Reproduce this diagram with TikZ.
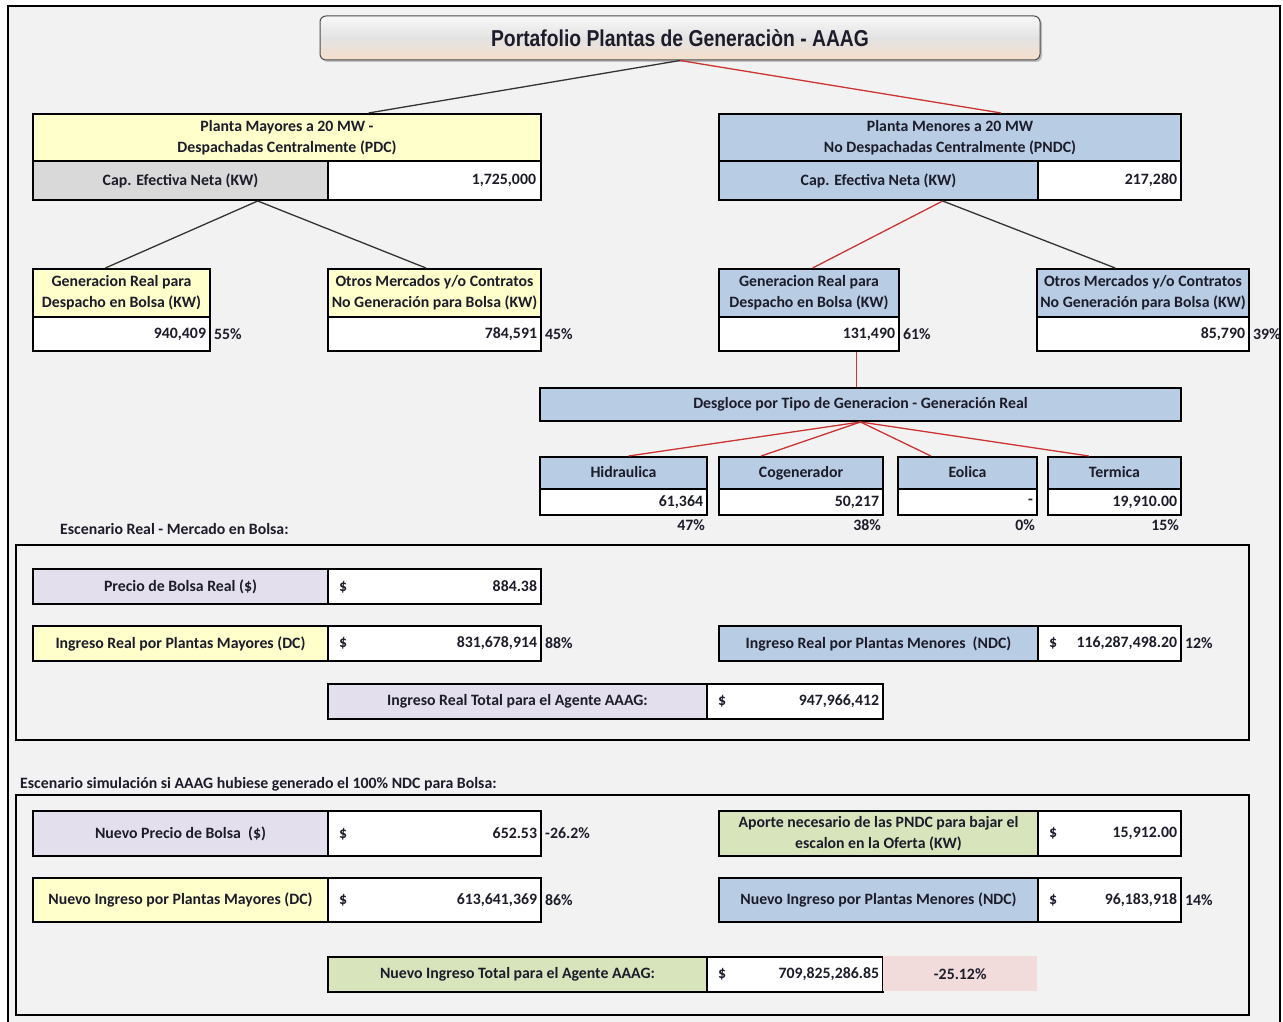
\documentclass[tikz,border=0pt]{standalone}
\usepackage{fontspec}
\setmainfont{Carlito}
\newfontfamily\titlefont{Liberation Sans}
\usepackage{xcolor}
\usepackage{tikz}
\usetikzlibrary{positioning,calc,shadows}

\definecolor{sheet}{HTML}{F2F2F2}
\definecolor{ink}{HTML}{1C1C2A}
\definecolor{mayor}{HTML}{FFFFCC}
\definecolor{capgray}{HTML}{D9D9D9}
\definecolor{menor}{HTML}{B8CCE4}
\definecolor{lila}{HTML}{E4DFEC}
\definecolor{verde}{HTML}{D8E4BC}
\definecolor{rosa}{HTML}{F2DCDB}
\definecolor{linkred}{HTML}{CC3333}

\newcommand{\pesos}{\hspace*{7pt}\$\hfill}

\begin{document}
\begin{tikzpicture}[x=1pt,y=-1pt,font=\bfseries\fontsize{15.8}{21}\selectfont,text=ink]
  \tikzstyle{cell}=[draw=black,line width=2pt,anchor=north west,inner sep=4pt,align=center]
  \tikzstyle{numcell}=[cell,fill=white,align=right]
  \tikzstyle{pct}=[anchor=west,inner sep=3pt]
  \tikzstyle{link}=[line width=1.3pt,draw=black!80]
  \tikzstyle{redlink}=[line width=1.3pt,draw=linkred]
  \tikzstyle{frame}=[line width=2pt,draw=black]

  \useasboundingbox (0,0) rectangle (1283,1022);
  \fill[white] (0,0) rectangle (1283,1022);
  \draw[frame,fill=sheet] (8,6) rectangle (1280,1040);

  % title
  \node[rounded corners=6pt,draw=black!70,line width=1pt,minimum width=720,minimum height=44,
        top color=gray!6,bottom color={rgb,255:red,246;green,222;blue,202},middle color=gray!22,
        drop shadow={opacity=0.45,shadow xshift=2pt,shadow yshift=-2pt}] (port) at (680,38)
        {\titlefont\bfseries\fontsize{23}{26}\selectfont\scalebox{0.84}[1]{Portafolio Plantas de Generaciòn - AAAG}};

  % plantas mayores (PDC)
  \node[cell,fill=mayor,minimum width=508,minimum height=47] (pdc) at (32,113) {Planta Mayores a 20 MW -\\Despachadas Centralmente (PDC)};
  \node[cell,fill=capgray,minimum width=295,minimum height=39] (pdccap) at (32,160) {Cap. Efectiva Neta (KW)};
  \node[numcell,text width=203,minimum height=39,inner xsep=5pt] (pdcval) at (327,160) {1,725,000};

  \node[cell,fill=mayor,minimum width=177,minimum height=48] (pdcgen) at (32,268) {Generacion Real para\\Despacho en Bolsa (KW)};
  \node[numcell,text width=169,minimum height=34] (pdcgenval) at (32,316) {940,409};
  \node[pct] at (pdcgenval.east) {55\%};
  \node[cell,fill=mayor,minimum width=213,minimum height=48,inner sep=1pt] (pdcotr) at (327,268) {Otros Mercados y/o Contratos\\No Generación para Bolsa (KW)};
  \node[numcell,text width=205,minimum height=34] (pdcotrval) at (327,316) {784,591};
  \node[pct] at (pdcotrval.east) {45\%};

  % plantas menores (PNDC)
  \node[cell,fill=menor,minimum width=462,minimum height=47] (pndc) at (718,113) {Planta Menores a 20 MW\\No Despachadas Centralmente (PNDC)};
  \node[cell,fill=menor,minimum width=319,minimum height=39] (pndccap) at (718,160) {Cap. Efectiva Neta (KW)};
  \node[numcell,text width=135,minimum height=39] (pndcval) at (1037,160) {217,280};

  \node[cell,fill=menor,minimum width=180,minimum height=48] (pndcgen) at (718,268) {Generacion Real para\\Despacho en Bolsa (KW)};
  \node[numcell,text width=172,minimum height=34] (pndcgenval) at (718,316) {131,490};
  \node[pct] at (pndcgenval.east) {61\%};
  \node[cell,fill=menor,minimum width=212,minimum height=48,inner sep=1pt] (pndcotr) at (1036,268) {Otros Mercados y/o Contratos\\No Generación para Bolsa (KW)};
  \node[numcell,text width=204,minimum height=34] (pndcotrval) at (1036,316) {85,790};
  \node[pct] at (pndcotrval.east) {39\%};

  % desgloce
  \node[cell,fill=menor,minimum width=641,minimum height=33] (desg) at (539,387) {Desgloce por Tipo de Generacion - Generación Real};
  \node[cell,fill=menor,minimum width=167,minimum height=32] (hid) at (539,456) {\strut Hidraulica};
  \node[numcell,text width=159,minimum height=26,inner ysep=2pt] (hidval) at (539,488) {61,364};
  \node[pct,anchor=north east] at (hidval.south east) {47\%};
  \node[cell,fill=menor,minimum width=164,minimum height=32] (cog) at (718,456) {\strut Cogenerador};
  \node[numcell,text width=156,minimum height=26,inner ysep=2pt] (cogval) at (718,488) {50,217};
  \node[pct,anchor=north east] at (cogval.south east) {38\%};
  \node[cell,fill=menor,minimum width=139,minimum height=32] (eol) at (897,456) {\strut Eolica};
  \node[numcell,text width=131,minimum height=26,inner ysep=2pt] (eolval) at (897,488) {-};
  \node[pct,anchor=north east] at (eolval.south east) {0\%};
  \node[cell,fill=menor,minimum width=133,minimum height=32] (ter) at (1047,456) {\strut Termica};
  \node[numcell,text width=125,minimum height=26,inner ysep=2pt] (terval) at (1047,488) {19,910.00};
  \node[pct,anchor=north east] at (terval.south east) {15\%};

  % enlaces
  \draw[link] (port.south) -- ($(pdc.north west)!0.66!(pdc.north east)$);
  \draw[redlink] (port.south) -- ($(pndc.north west)!0.61!(pndc.north east)$);
  \draw[link] ($(pdccap.south west)!0.76!(pdccap.south east)$) -- ($(pdcgen.north west)!0.41!(pdcgen.north east)$);
  \draw[link] ($(pdccap.south west)!0.76!(pdccap.south east)$) -- ($(pdcotr.north west)!0.46!(pdcotr.north east)$);
  \draw[redlink] ($(pndccap.south west)!0.70!(pndccap.south east)$) -- ($(pndcgen.north west)!0.52!(pndcgen.north east)$);
  \draw[link] ($(pndccap.south west)!0.70!(pndccap.south east)$) -- ($(pndcotr.north west)!0.37!(pndcotr.north east)$);
  \draw[redlink] ($(pndcgenval.south west)!0.76!(pndcgenval.south east)$) coordinate (drop) -- (drop |- desg.north);
  \draw[redlink] (desg.south) -- ($(hid.north west)!0.53!(hid.north east)$);
  \draw[redlink] (desg.south) -- ($(cog.north west)!0.26!(cog.north east)$);
  \draw[redlink] (desg.south) -- ($(eol.north west)!0.24!(eol.north east)$);
  \draw[redlink] (desg.south) -- ($(ter.north west)!0.31!(ter.north east)$);

  % escenario real
  \node[anchor=west,inner sep=0pt] (escreal) at (60,529) {Escenario Real - Mercado en Bolsa:};
  \draw[frame] (16,545) rectangle (1249,740);
  \node[cell,fill=lila,minimum width=295,minimum height=35] (precio) at (32,568) {Precio de Bolsa Real (\$)};
  \node[numcell,text width=205,minimum height=35] (precioval) at (327,568) {\pesos 884.38};
  \node[cell,fill=mayor,minimum width=295,minimum height=35] (ingmay) at (32,625) {Ingreso Real por Plantas Mayores (DC)};
  \node[numcell,text width=205,minimum height=35] (ingmayval) at (327,625) {\pesos 831,678,914};
  \node[pct] at (ingmayval.east) {88\%};
  \node[cell,fill=menor,minimum width=319,minimum height=35] (ingmen) at (718,625) {Ingreso Real por Plantas Menores~~(NDC)};
  \node[numcell,text width=135,minimum height=35] (ingmenval) at (1037,625) {\pesos 116,287,498.20};
  \node[pct] at (ingmenval.east) {12\%};
  \node[cell,fill=lila,minimum width=379,minimum height=35] (ingtot) at (327,683) {Ingreso Real Total para el Agente AAAG:};
  \node[numcell,text width=168,minimum height=35] (ingtotval) at (706,683) {\pesos 947,966,412};

  % escenario simulacion
  \node[anchor=west,inner sep=0pt] (escsim) at (20,784) {Escenario simulación si AAAG hubiese generado el 100\% NDC para Bolsa:};
  \draw[frame] (16,795) rectangle (1249,1015);
  \node[cell,fill=lila,minimum width=295,minimum height=45] (nprecio) at (32,810) {Nuevo Precio de Bolsa~~(\$)};
  \node[numcell,text width=205,minimum height=45] (nprecioval) at (327,810) {\pesos 652.53};
  \node[pct] at (nprecioval.east) {-26.2\%};
  \node[cell,fill=verde,minimum width=319,minimum height=45,inner sep=1pt] (aporte) at (718,810) {Aporte necesario de las PNDC para bajar el\\escalon en la Oferta (KW)};
  \node[numcell,text width=135,minimum height=45] (aporteval) at (1037,810) {\pesos 15,912.00};
  \node[cell,fill=mayor,minimum width=295,minimum height=44] (nmay) at (32,877) {Nuevo Ingreso por Plantas Mayores (DC)};
  \node[numcell,text width=205,minimum height=44] (nmayval) at (327,877) {\pesos 613,641,369};
  \node[pct] at (nmayval.east) {86\%};
  \node[cell,fill=menor,minimum width=319,minimum height=44] (nmen) at (718,877) {Nuevo Ingreso por Plantas Menores (NDC)};
  \node[numcell,text width=135,minimum height=44] (nmenval) at (1037,877) {\pesos 96,183,918};
  \node[pct] at (nmenval.east) {14\%};
  \node[cell,fill=verde,minimum width=379,minimum height=35] (ntot) at (327,956) {Nuevo Ingreso Total para el Agente AAAG:};
  \node[numcell,text width=168,minimum height=35] (ntotval) at (706,956) {\pesos 709,825,286.85};
  \node[anchor=north west,fill=rosa,minimum width=154,minimum height=35,inner sep=0pt] (ntotpct) at (883,956) {-25.12\%};
\end{tikzpicture}
\end{document}
